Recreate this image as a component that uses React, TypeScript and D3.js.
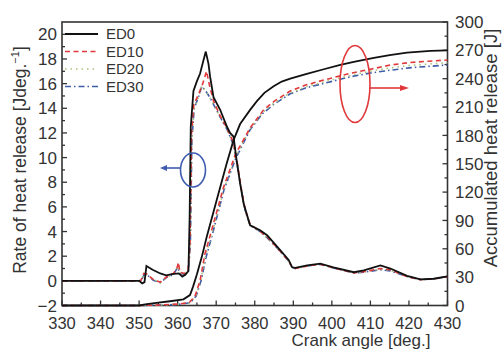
import * as d3 from "d3";
import { useEffect, useRef } from "react";

// crank angle [deg], rate of heat release [J/deg]
const rateED0: [number, number][] = [
  [330, 0], [340, 0], [350, 0], [350.8, -0.2], [351.4, -0.1], [351.9, 1.2], [353.5, 0.9],
  [355.5, 0.6], [357, 0.45], [358.5, 0.55], [360.3, 0.6], [361.2, 0.35], [362, 0.5],
  [362.8, 0.8], [363.1, 5], [363.4, 12.5], [364.1, 15.4], [365, 16.2], [365.8, 16.8],
  [366.7, 17.9], [367.3, 18.6], [368, 17.6], [368.4, 16.6], [369.3, 14.9], [371, 13.9],
  [372.8, 12.5], [373.6, 12], [374.5, 11.7], [375.2, 10], [376.2, 7.9], [377.1, 6.3],
  [378.8, 4.5], [381.4, 4.1], [383.2, 3.7], [386.6, 2.5], [388.8, 1.7], [389.7, 1.1],
  [390.5, 1.05], [393.6, 1.25], [397, 1.4], [400.4, 1.1], [405.7, 0.7], [408.3, 0.85],
  [412.6, 1.25], [415.2, 1.0], [419.5, 0.4], [423, 0.12], [426.4, 0.17], [430, 0.36],
];
const rateED10: [number, number][] = [
  [330, 0], [350, 0], [350.5, 0.05], [351.2, 0.6], [352, 0.55], [353.7, 0.1], [355.5, -0.1],
  [357.2, 0.35], [358.9, 0.6], [359.8, 1.0], [360.2, 1.5], [360.6, 0.7], [361.8, 0.6],
  [362.7, 0.9], [363.2, 3], [363.6, 12], [364.2, 14.3], [365.5, 15.2], [366.5, 16.0],
  [367.5, 17.0], [368.3, 15.8], [369.3, 14.6], [371, 13.4], [372.8, 12.4], [374.5, 11.2],
  [375.5, 9.5], [376.5, 7.5], [377.5, 5.8], [378.8, 4.6], [381.4, 4.0], [383.2, 3.6],
  [386.6, 2.4], [388.8, 1.6], [389.7, 1.1], [390.5, 1.0], [393.6, 1.2], [397, 1.35],
  [400.4, 1.05], [405.7, 0.65], [408.3, 0.75], [412.6, 1.0], [415.2, 0.9], [419.5, 0.35],
  [423, 0.1], [426.4, 0.15], [430, 0.35],
];
const rateED20: [number, number][] = [
  [330, 0], [350, 0], [350.6, 0.05], [351.3, 0.55], [352, 0.5], [353.7, 0.1], [355.5, -0.15],
  [357.2, 0.3], [358.9, 0.55], [360, 1.2], [360.6, 0.65], [361.8, 0.55], [362.8, 0.9],
  [363.3, 3], [363.7, 11.5], [364.3, 14.0], [365.5, 15.0], [366.3, 15.8], [367.5, 15.3],
  [368.5, 14.8], [369.5, 14.2], [371, 13.3], [372.8, 12.3], [374.5, 11.0], [375.5, 9.3],
  [376.5, 7.4], [377.5, 5.7], [378.8, 4.5], [381.4, 4.0], [383.2, 3.5], [386.6, 2.4],
  [388.8, 1.6], [389.7, 1.1], [390.5, 1.0], [393.6, 1.2], [397, 1.35], [400.4, 1.05],
  [405.7, 0.65], [408.3, 0.7], [412.6, 0.95], [415.2, 0.85], [419.5, 0.35], [423, 0.1],
  [426.4, 0.15], [430, 0.35],
];
const rateED30: [number, number][] = [
  [330, 0], [350, 0], [350.6, 0.05], [351.3, 0.5], [352, 0.5], [353.7, 0.05], [355.5, -0.15],
  [357.2, 0.3], [358.9, 0.5], [360, 1.1], [360.6, 0.6], [361.8, 0.55], [362.8, 0.85],
  [363.3, 3], [363.7, 11.5], [364.3, 14.0], [365.5, 15.0], [366.3, 15.8], [367.5, 15.3],
  [368.5, 14.8], [369.5, 14.2], [371, 13.3], [372.8, 12.3], [374.5, 11.0], [375.5, 9.3],
  [376.5, 7.4], [377.5, 5.7], [378.8, 4.5], [381.4, 4.0], [383.2, 3.5], [386.6, 2.4],
  [388.8, 1.6], [389.7, 1.1], [390.5, 1.0], [393.6, 1.2], [397, 1.35], [400.4, 1.05],
  [405.7, 0.65], [408.3, 0.7], [412.6, 0.9], [415.2, 0.8], [419.5, 0.35], [423, 0.1],
  [426.4, 0.15], [430, 0.35],
];

// crank angle [deg], accumulated heat release [J]
const accED0: [number, number][] = [
  [330, 0], [350, 0], [352, 1.5], [355, 3], [358, 4.5], [361.5, 6.5], [363.2, 11],
  [364, 20], [365, 33], [366.3, 52], [367.5, 72], [370.1, 111], [372.7, 150], [374.5, 175],
  [376.2, 192], [378.8, 207], [380.5, 216], [382.5, 225], [384.9, 232], [387, 237],
  [389.2, 240], [393.5, 245], [397.9, 250], [402.2, 254.5], [406, 258], [410.9, 262],
  [415, 265], [419.5, 267.5], [425.6, 269.5], [430, 270],
];
const accED10: [number, number][] = [
  [330, 0], [350, 0], [355, 0.5], [360, 1.5], [363, 3], [364.5, 10], [365.8, 26],
  [367.1, 55], [368.5, 75], [371.9, 125], [375, 160], [378.8, 188], [382.3, 207],
  [385, 216], [389.2, 227], [393, 233], [397.9, 238.6], [404.8, 245.7], [410, 250],
  [415.2, 254.5], [420, 257], [425, 258.5], [430, 259.8],
];
const accED20: [number, number][] = [
  [330, 0], [350, 0], [355, 0.5], [360, 1.2], [363.2, 3], [364.7, 10], [366, 27],
  [367.2, 52], [368.7, 73], [372, 123], [375, 157], [378.8, 187], [382.2, 205],
  [385, 214], [389.2, 225], [393, 231], [397.9, 236.5], [404.8, 243.5], [410, 248],
  [415.2, 251.5], [420, 254], [425, 255.5], [430, 257],
];
const accED30: [number, number][] = [
  [330, 0], [350, 0], [355, 0.4], [360, 1], [363.3, 3], [364.8, 10], [366.2, 28],
  [367.3, 50], [368.8, 72], [372, 122], [375, 155], [378.8, 186], [382, 203],
  [385, 213], [389.2, 224], [393, 230], [397.9, 235], [404.8, 242], [410, 246],
  [415.2, 249], [420, 251.5], [425, 253], [430, 254.5],
];

const seriesNames = ["ED0", "ED10", "ED20", "ED30"];
const seriesColors = ["#111111", "#e0393b", "#a9c27a", "#3f5ca8"];
const seriesDash = ["none", "5,3.5", "1.5,4", "6,3,1.5,3"];
const rateSeries = [rateED0, rateED10, rateED20, rateED30];
const accSeries = [accED0, accED10, accED20, accED30];

const xTicks = d3.range(330, 431, 10);
const leftTicks = d3.range(-2, 21, 2);
const rightTicks = d3.range(0, 301, 30);

export default function App() {
  const ref = useRef<SVGSVGElement>(null);

  useEffect(() => {
    if (!ref.current) return;
    const svg = d3.select(ref.current);
    svg.selectAll("*").remove();

    const font = "Liberation Sans, Arial, sans-serif";
    const axisColor = "#333";
    const tickSize = "16.5px";

    const x = d3.scaleLinear().domain([330, 430]).range([62, 447.5]);
    const yL = d3.scaleLinear().domain([-2, 21]).range([305.5, 22]);
    const yR = d3.scaleLinear().domain([0, 300]).range([305.5, 22]);

    // frame
    svg.append("rect")
      .attr("x", x(330)).attr("y", yL(21))
      .attr("width", x(430) - x(330)).attr("height", yL(-2) - yL(21))
      .attr("fill", "none").attr("stroke", axisColor).attr("stroke-width", 1.6);

    const g = svg.append("g");

    // bottom ticks (inward)
    d3.range(330, 431, 5).forEach((v) => {
      g.append("line")
        .attr("x1", x(v)).attr("x2", x(v))
        .attr("y1", yL(-2)).attr("y2", yL(-2) - (v % 10 === 0 ? 5 : 3))
        .attr("stroke", axisColor).attr("stroke-width", 1.3);
    });
    xTicks.forEach((v) => {
      g.append("text")
        .attr("x", x(v)).attr("y", 329)
        .attr("text-anchor", "middle")
        .style("font-family", font).style("font-size", tickSize).style("fill", "#333")
        .text(v);
    });

    // left ticks
    d3.range(-2, 21, 1).forEach((v) => {
      g.append("line")
        .attr("x1", x(330)).attr("x2", x(330) + (v % 2 === 0 ? 5 : 3))
        .attr("y1", yL(v)).attr("y2", yL(v))
        .attr("stroke", axisColor).attr("stroke-width", 1.3);
    });
    leftTicks.forEach((v) => {
      g.append("text")
        .attr("x", 57).attr("y", yL(v))
        .attr("dy", "0.36em")
        .attr("text-anchor", "end")
        .style("font-family", font).style("font-size", "17px").style("fill", "#333")
        .text(v < 0 ? `\u2212${Math.abs(v)}` : `${v}`);
    });

    // right ticks
    d3.range(0, 301, 15).forEach((v) => {
      g.append("line")
        .attr("x1", x(430)).attr("x2", x(430) - (v % 30 === 0 ? 5 : 3))
        .attr("y1", yR(v)).attr("y2", yR(v))
        .attr("stroke", axisColor).attr("stroke-width", 1.3);
    });
    rightTicks.forEach((v) => {
      g.append("text")
        .attr("x", 455).attr("y", yR(v))
        .attr("dy", "0.36em")
        .attr("text-anchor", "start")
        .style("font-family", font).style("font-size", "17px").style("fill", "#333")
        .text(v);
    });

    // axis titles
    svg.append("text")
      .attr("x", 361).attr("y", 346)
      .attr("text-anchor", "middle")
      .style("font-family", font).style("font-size", "17px").style("fill", "#333")
      .text("Crank angle [deg.]");

    const leftTitle = svg.append("text")
      .attr("transform", "translate(26,160) rotate(-90)")
      .attr("text-anchor", "middle")
      .style("font-family", font).style("font-size", "17.5px").style("fill", "#333");
    leftTitle.append("tspan").text("Rate of heat release [Jdeg.");
    leftTitle.append("tspan").attr("dy", -7).style("font-size", "11px").text("\u22121");
    leftTitle.append("tspan").attr("dy", 7).text("]");

    svg.append("text")
      .attr("transform", "translate(497,148) rotate(-90)")
      .attr("text-anchor", "middle")
      .style("font-family", font).style("font-size", "18.5px").style("fill", "#333")
      .text("Accumulated heat release [J]");

    // curves
    const lineL = d3.line<[number, number]>().x((d) => x(d[0])).y((d) => yL(d[1]));
    const lineR = d3.line<[number, number]>().x((d) => x(d[0])).y((d) => yR(d[1]));

    const order = [3, 2, 1, 0];
    order.forEach((i) => {
      svg.append("path")
        .datum(accSeries[i])
        .attr("d", lineR)
        .attr("fill", "none")
        .attr("stroke", seriesColors[i])
        .attr("stroke-width", i === 0 ? 1.8 : 1.6)
        .attr("stroke-dasharray", seriesDash[i]);
      svg.append("path")
        .datum(rateSeries[i])
        .attr("d", lineL)
        .attr("fill", "none")
        .attr("stroke", seriesColors[i])
        .attr("stroke-width", i === 0 ? 1.8 : 1.6)
        .attr("stroke-dasharray", seriesDash[i]);
    });

    // legend
    const legendY = [34, 51.5, 69, 86.5];
    seriesNames.forEach((name, i) => {
      svg.append("line")
        .attr("x1", 65).attr("x2", 98)
        .attr("y1", legendY[i]).attr("y2", legendY[i])
        .attr("stroke", seriesColors[i])
        .attr("stroke-width", i === 0 ? 1.8 : 1.6)
        .attr("stroke-dasharray", seriesDash[i]);
      svg.append("text")
        .attr("x", 106).attr("y", legendY[i])
        .attr("dy", "0.36em")
        .style("font-family", font).style("font-size", "15px").style("fill", "#333")
        .text(name);
    });

    // annotations
    svg.append("ellipse")
      .attr("cx", 193).attr("cy", 170).attr("rx", 12.5).attr("ry", 17)
      .attr("fill", "none").attr("stroke", "#3f5cb0").attr("stroke-width", 1.6);
    svg.append("line")
      .attr("x1", 180).attr("x2", 166).attr("y1", 168).attr("y2", 168)
      .attr("stroke", "#3f5cb0").attr("stroke-width", 1.6);
    svg.append("path")
      .attr("d", "M160,168 L167,165 L167,171 Z")
      .attr("fill", "#3f5cb0");

    svg.append("ellipse")
      .attr("cx", 355).attr("cy", 84).attr("rx", 15).attr("ry", 38.5)
      .attr("fill", "none").attr("stroke", "#e0393b").attr("stroke-width", 1.6);
    svg.append("line")
      .attr("x1", 370).attr("x2", 401).attr("y1", 88).attr("y2", 88)
      .attr("stroke", "#e0393b").attr("stroke-width", 1.6);
    svg.append("path")
      .attr("d", "M409,88 L400,85 L400,91 Z")
      .attr("fill", "#e0393b");
  }, []);

  return (
    <svg
      ref={ref}
      width={502}
      height={356}
      style={{ position: "absolute", left: 0, top: 0, background: "#fff" }}
    />
  );
}
